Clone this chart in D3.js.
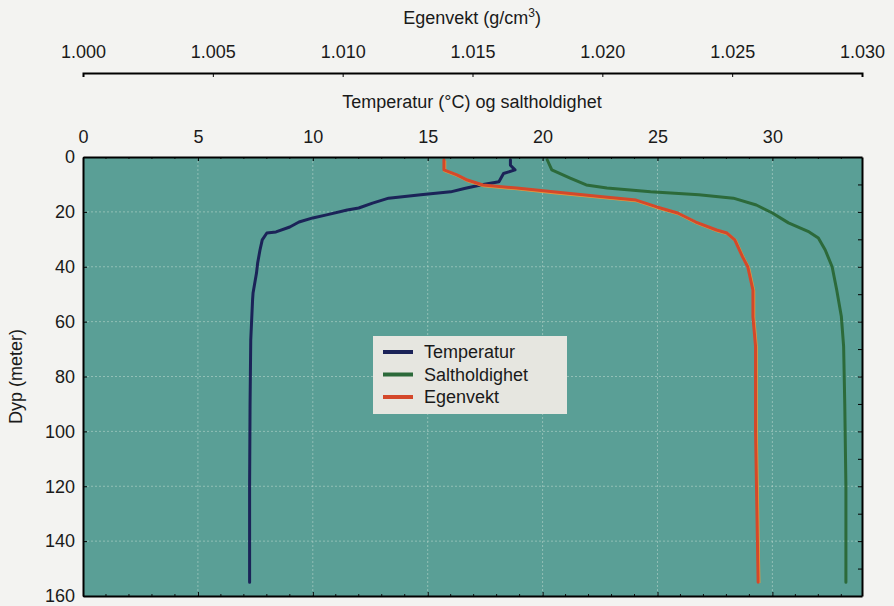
<!DOCTYPE html>
<html>
<head>
<meta charset="utf-8">
<script src="https://cdn.jsdelivr.net/npm/d3@7"></script>
<style>
  body { margin: 0; background: #f3f3f1; }
  svg text { font-family: "Liberation Sans", Arial, sans-serif; fill: #1a1a1a; }
</style>
</head>
<body>
<script>
// depth profiles (depth in meter)
const tempDepth = [1, 3, 4.7, 6, 9, 10.2, 11.5, 12.7, 13.8, 15, 16.8, 18.6, 19.3, 21.1, 22.2, 23.7, 25.5, 27.3, 27.7, 30.2, 34, 38.6, 42.3, 49.6, 52, 66.7, 90, 120, 155];
const tempValues = [18.6, 18.6, 18.8, 18.3, 18.1, 17.3, 16.6, 16.0, 14.7, 13.3, 12.6, 12.0, 11.5, 10.6, 10.0, 9.4, 9.0, 8.4, 8.0, 7.8, 7.7, 7.6, 7.55, 7.4, 7.38, 7.3, 7.27, 7.25, 7.25];

const saltDepth = [1, 4.7, 7.7, 10.2, 11.3, 12.7, 13.8, 15, 17.5, 20.4, 24, 27.3, 29.5, 33.9, 40, 48.5, 58, 69, 90, 120, 155];
const saltValues = [20.2, 20.4, 21.2, 21.9, 22.8, 24.7, 26.8, 28.3, 29.3, 30.0, 30.7, 31.6, 32.0, 32.3, 32.6, 32.8, 33.0, 33.1, 33.15, 33.2, 33.2];

const densDepth = [1, 4.7, 6.5, 8.4, 10.2, 11.3, 12.7, 14.6, 15.7, 18.2, 20.4, 23.7, 26.6, 27.7, 30.2, 36.4, 40, 48.5, 58.3, 69, 100, 155];
const densValues = [1.0139, 1.0139, 1.0144, 1.0148, 1.0154, 1.0167, 1.0181, 1.0201, 1.0213, 1.0221, 1.0229, 1.0236, 1.0244, 1.0248, 1.0251, 1.0254, 1.0256, 1.0258, 1.0258, 1.0259, 1.0259, 1.026];

const tempTicks = [0, 5, 10, 15, 20, 25, 30];
const densTicks = [1.000, 1.005, 1.010, 1.015, 1.020, 1.025, 1.030];
const depthTicks = [0, 20, 40, 60, 80, 100, 120, 140, 160];

const legendNames = ["Temperatur", "Saltholdighet", "Egenvekt"];
const colors = ["#1b2358", "#2c6a3a", "#d4482a"];

const width = 894;
const height = 606;
const plotLeft = 83, plotRight = 862, plotTop = 157, plotBottom = 596;

const svg = d3.select("body")
  .append("svg")
  .attr("width", width)
  .attr("height", height);

const x = d3.scaleLinear().domain([0, 33.9]).range([plotLeft, plotRight]);
const xDens = d3.scaleLinear().domain([1.000, 1.030]).range([plotLeft, plotRight]);
const y = d3.scaleLinear().domain([0, 160]).range([plotTop, plotBottom]);

// plot background
svg.append("rect")
  .attr("x", plotLeft).attr("y", plotTop)
  .attr("width", plotRight - plotLeft).attr("height", plotBottom - plotTop)
  .attr("fill", "#5a9f96");

// dotted grid
svg.append("g")
  .selectAll("line")
  .data(tempTicks.slice(1))
  .join("line")
  .attr("x1", d => x(d)).attr("x2", d => x(d))
  .attr("y1", plotTop).attr("y2", plotBottom)
  .attr("stroke", "#c9e0d6").attr("stroke-opacity", 0.5)
  .attr("stroke-dasharray", "2,2");

svg.append("g")
  .selectAll("line")
  .data(depthTicks.slice(1, -1))
  .join("line")
  .attr("x1", plotLeft).attr("x2", plotRight)
  .attr("y1", d => y(d)).attr("y2", d => y(d))
  .attr("stroke", "#c9e0d6").attr("stroke-opacity", 0.5)
  .attr("stroke-dasharray", "2,2");

// profiles
const series = [
  { depth: tempDepth, values: tempValues, scale: x, color: colors[0] },
  { depth: saltDepth, values: saltValues, scale: x, color: colors[1] },
  { depth: densDepth, values: densValues, scale: xDens, color: colors[2] },
];

series.forEach((s, k) => {
  const pts = s.depth.map((d, i) => [s.values[i], d]);
  const line = d3.line()
    .x(d => s.scale(d[0]))
    .y(d => y(d[1]));
  if (k === 2) {
    // faint orange edge under the red line
    svg.append("path")
      .attr("d", line(pts))
      .attr("fill", "none")
      .attr("stroke", "#e89a3c")
      .attr("stroke-width", 3)
      .attr("transform", "translate(0.8,0.8)");
  }
  svg.append("path")
    .attr("d", line(pts))
    .attr("fill", "none")
    .attr("stroke", s.color)
    .attr("stroke-width", 3)
    .attr("stroke-linejoin", "round")
    .attr("stroke-linecap", "round");
});

// minor ticks top and bottom
const minor = d3.range(1, 34).filter(v => v % 5 !== 0);
[plotTop, plotBottom].forEach((yy, i) => {
  svg.append("g")
    .selectAll("line")
    .data(minor)
    .join("line")
    .attr("x1", d => x(d)).attr("x2", d => x(d))
    .attr("y1", yy).attr("y2", i === 0 ? yy + 2 : yy - 2)
    .attr("stroke", "#111").attr("stroke-width", 1);
});

// top temperature axis
const tempAxis = svg.append("g")
  .attr("transform", `translate(0,${plotTop})`)
  .call(d3.axisTop(x).tickValues(tempTicks).tickSize(-4).tickSizeOuter(0).tickPadding(14));
tempAxis.select(".domain").attr("stroke-width", 2);
tempAxis.selectAll("text").attr("font-size", 18);

// bottom border
const botAxis = svg.append("g")
  .attr("transform", `translate(0,${plotBottom})`)
  .call(d3.axisBottom(x).tickValues(tempTicks).tickSize(-4).tickSizeOuter(0).tickFormat(""));
botAxis.select(".domain").attr("stroke-width", 2);

// left depth axis
const leftAxis = svg.append("g")
  .attr("transform", `translate(${plotLeft},0)`)
  .call(d3.axisLeft(y).tickValues(depthTicks).tickSize(-4).tickSizeOuter(0).tickPadding(8));
leftAxis.select(".domain").attr("stroke-width", 2);
leftAxis.selectAll("text").attr("font-size", 18);

// right border
const rightAxis = svg.append("g")
  .attr("transform", `translate(${plotRight},0)`)
  .call(d3.axisRight(y).tickValues(d3.range(0, 161, 10)).tickSize(-4).tickSizeOuter(0).tickFormat(""));
rightAxis.select(".domain").attr("stroke-width", 2);

// density axis above
const densAxis = svg.append("g")
  .attr("transform", "translate(0,73)")
  .call(d3.axisTop(xDens).tickValues(densTicks).tickSize(-4).tickSizeOuter(-4).tickPadding(15)
    .tickFormat(d3.format(".3f")));
densAxis.select(".domain").attr("stroke-width", 2);
densAxis.selectAll("text").attr("font-size", 18);

// titles
const title1 = svg.append("text")
  .attr("x", 472).attr("y", 24)
  .attr("text-anchor", "middle")
  .attr("font-size", 18);
title1.append("tspan").text("Egenvekt (g/cm");
title1.append("tspan").text("3").attr("font-size", 12).attr("dy", -7);
title1.append("tspan").text(")").attr("dy", 7);

svg.append("text")
  .attr("x", 472).attr("y", 108)
  .attr("text-anchor", "middle")
  .attr("font-size", 18)
  .text("Temperatur (\u00B0C) og saltholdighet");

svg.append("text")
  .attr("transform", `translate(22,${(plotTop + plotBottom) / 2}) rotate(-90)`)
  .attr("text-anchor", "middle")
  .attr("font-size", 18)
  .text("Dyp (meter)");

// legend
const legend = svg.append("g").attr("transform", "translate(373,336)");
legend.append("rect")
  .attr("width", 194).attr("height", 78)
  .attr("fill", "#e6e6e0");
const rows = legend.selectAll("g.row")
  .data(legendNames)
  .join("g")
  .attr("class", "row")
  .attr("transform", (d, i) => `translate(0,${16 + i * 22.5})`);
rows.append("line")
  .attr("x1", 10).attr("x2", 40)
  .attr("stroke", (d, i) => colors[i])
  .attr("stroke-width", 4);
rows.append("text")
  .attr("x", 51).attr("y", 0)
  .attr("dy", "0.35em")
  .attr("font-size", 18)
  .text(d => d);
</script>
</body>
</html>
